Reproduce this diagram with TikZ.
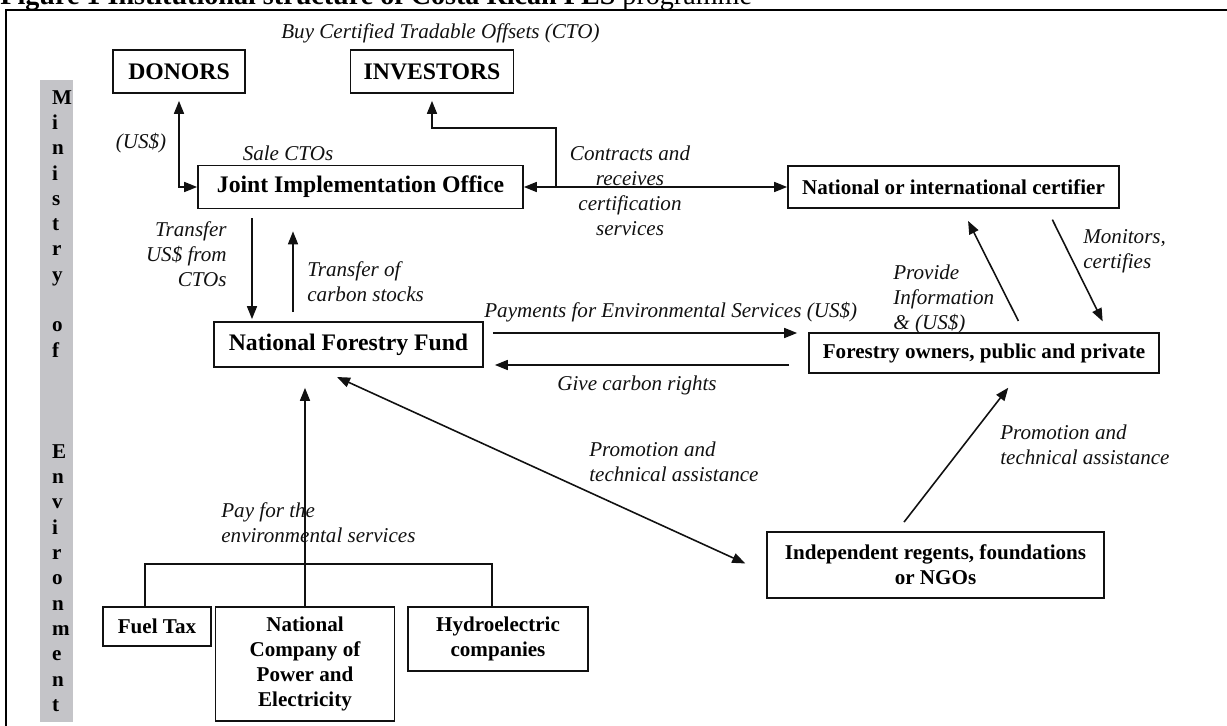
\documentclass[tikz,border=0pt]{standalone}
\usepackage{fontspec}
\setmainfont{Liberation Serif}
\usepackage{xcolor}
\usepackage{tikz}
\usetikzlibrary{arrows.meta, positioning, calc}
\definecolor{Ink}{HTML}{111111}
\definecolor{Bar}{HTML}{C4C4C8}

\begin{document}
\begin{tikzpicture}[
  x=0.02cm, y=-0.02cm,
  box/.style={draw=Ink, line width=1pt, fill=white, align=center, inner sep=0pt, font=\bfseries\fontsize{12}{14.2}\selectfont},
  bigbox/.style={box, font=\bfseries\fontsize{13.5}{16}\selectfont},
  lbl/.style={inner sep=0pt, text=Ink, font=\itshape\fontsize{12}{14.2}\selectfont},
  line/.style={draw=Ink, line width=0.9pt},
  arrow/.style={line, -{Triangle[length=0.26cm, width=0.2cm]}},
  both/.style={line, {Triangle[length=0.26cm, width=0.2cm]}-{Triangle[length=0.26cm, width=0.2cm]}},
  bar/.style={fill=Bar, inner xsep=0.24cm, inner ysep=0pt, text width=0.18cm, align=left, font=\bfseries\fontsize{12}{14.4}\selectfont}
]
\useasboundingbox (0,0) rectangle (1227,726);
\node[anchor=base west, inner sep=0pt, font=\fontsize{16}{19}\selectfont] (title) at (0,5) {\textbf{Figure 1 Institutional structure of Costa Rican PES} programme};
\draw[line width=1.3pt] (6,10) rectangle (1260,760);

\node[bar, minimum height=12.84cm] (ministry) at (56.5,401) {M\\i\\n\\i\\s\\t\\r\\y\\[14.4pt]o\\f\\[43.2pt]E\\n\\v\\i\\r\\o\\n\\m\\e\\n\\t};

\node[bigbox, minimum width=2.64cm, minimum height=0.86cm] (donors) at (179,71.5) {DONORS};
\node[bigbox, minimum width=3.26cm, minimum height=0.86cm] (investors) at (432,71.5) {INVESTORS};
\node[bigbox, minimum width=6.5cm, minimum height=0.86cm] (jio) at (360.5,187) {Joint Implementation Office};
\node[box, minimum width=6.62cm, minimum height=0.84cm] (certifier) at (953.5,187) {National or international certifier};
\node[bigbox, minimum width=5.38cm, minimum height=0.9cm] (nff) at (348.5,344.5) {National Forestry Fund};
\node[box, minimum width=7cm, minimum height=0.8cm] (owners) at (984,353) {Forestry owners, public and private};
\node[box, minimum width=6.74cm, minimum height=1.32cm] (ngos) at (935.5,565) {Independent regents, foundations\\or NGOs};
\node[box, minimum width=2.16cm, minimum height=0.78cm] (fuel) at (157,626.5) {Fuel Tax};
\node[box, minimum width=3.58cm, minimum height=2.28cm] (ncpe) at (305,664) {National\\Company of\\Power and\\Electricity};
\node[box, minimum width=3.6cm, minimum height=1.28cm] (hydro) at (498,639) {Hydroelectric\\companies};

\node[lbl, anchor=west] (buy) at (281,33) {Buy Certified Tradable Offsets (CTO)};
\node[lbl] (usd) at (141,143) {(US\$)};
\node[lbl] (sale) at (288,153) {Sale CTOs};
\node[lbl, align=center] (contracts) at (630,191) {Contracts and\\receives\\certification\\services};
\node[lbl, align=right, anchor=east] (transferusd) at (227,254) {Transfer\\US\$ from\\CTOs};
\node[lbl, align=left, anchor=west] (transferc) at (307,282) {Transfer of\\carbon stocks};
\node[lbl, anchor=west] (payments) at (484,312) {Payments for Environmental Services (US\$)};
\node[lbl] (give) at (637,385) {Give carbon rights};
\node[lbl, align=left, anchor=west] (provide) at (893,299) {Provide\\Information\\\& (US\$)};
\node[lbl, align=left, anchor=west] (monitors) at (1083,251) {Monitors,\\certifies};
\node[lbl, align=left, anchor=west] (promoowners) at (1000,444.5) {Promotion and\\technical assistance};
\node[lbl, align=left, anchor=west] (promonff) at (589,461.5) {Promotion and\\technical assistance};
\node[lbl, align=left, anchor=west] (payfor) at (221,523) {Pay for the\\environmental services};

\coordinate (split) at ($(jio.east)+(32,0)$);

\draw[both, shorten <=0.14cm] (donors.south) |- (jio.west);
\draw[arrow, shorten >=0.14cm] (split) -- ++(0,-59) -| (investors.south);
\draw[both] (jio.east) -- (certifier.west);
\draw[arrow, shorten <=0.18cm, shorten >=0.04cm] (jio.south -| 252,0) -- (nff.north -| 252,0);
\draw[arrow, shorten <=0.18cm, shorten >=0.44cm] (nff.north -| 293,0) -- (jio.south -| 293,0);
\draw[arrow, shorten <=0.18cm, shorten >=0.22cm] (nff.east |- 0,333) -- (owners.west |- 0,333);
\draw[arrow, shorten <=0.38cm, shorten >=0.22cm] (owners.west |- 0,365) -- (nff.east |- 0,365);
\draw[arrow, shorten <=0.25cm, shorten >=0.27cm] (owners.north -| 1024,0) -- (certifier.south -| 962,0);
\draw[arrow, shorten <=0.24cm, shorten >=0.24cm] (certifier.south -| 1047,0) -- (owners.north -| 1108,0);
\draw[arrow, shorten <=0.23cm, shorten >=0.35cm] (ngos.north -| 897,0) -- (owners.south -| 1019,0);
\draw[both, shorten <=0.44cm, shorten >=0.46cm] (nff.south -| 317,0) -- (ngos.west |- 0,573);
\draw[arrow, shorten >=0.4cm] (ncpe.north) -- (nff.south -| ncpe.north);
\draw[line] ([xshift=-0.24cm]fuel.north) |- (ncpe.north |- 0,564) -| ([xshift=-0.12cm]hydro.north);
\end{tikzpicture}
\end{document}
